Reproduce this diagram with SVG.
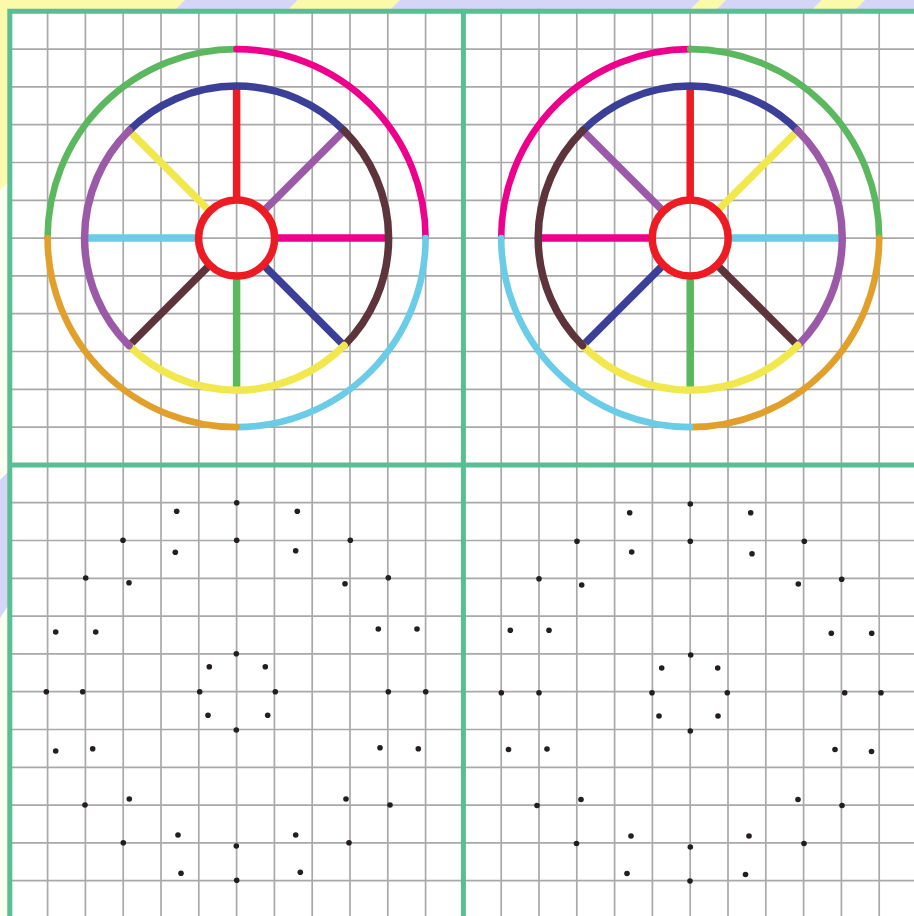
<svg xmlns="http://www.w3.org/2000/svg" width="914" height="916" viewBox="0 0 914 916">
<style>
.grid{fill:none;stroke:#a9a9a9;stroke-width:1.7}
.frame{fill:none;stroke:#58be93;stroke-width:5}
.ring{fill:none;stroke-width:6.6;stroke-linecap:round}
.mid{fill:none;stroke-width:7.5;stroke-linecap:round}
.spoke{fill:none;stroke-width:7.5;stroke-linecap:butt}
.hub{fill:none;stroke:#ed1c24;stroke-width:7.5}
.dot{fill:#231f20}
.g{stroke:#5cb85f}.m{stroke:#ec008c}.c{stroke:#6accE6}.o{stroke:#e1a02b}
.b{stroke:#3b3f98}.p{stroke:#9b5aa8}.y{stroke:#f1e84e}.br{stroke:#5d343c}.r{stroke:#ed1c24}
</style>
<defs>
<clipPath id="topStrip"><rect x="0" y="0" width="914" height="12"/></clipPath>
<clipPath id="leftStrip"><rect x="0" y="0" width="10" height="916"/></clipPath>
</defs>
<g id="backdrop">
<rect x="0" y="0" width="914" height="916" fill="#fdfdf2"/>
<g clip-path="url(#topStrip)">
<polygon points="0,0 185,0 170,15 0,15" fill="#fafaaa"/>
<polygon points="185,0 298,0 283,15 170,15" fill="#d5d5f8"/>
<polygon points="298,0 400,0 385,15 283,15" fill="#fafaaa"/>
<polygon points="400,0 700,0 685,15 385,15" fill="#d5d5f8"/>
<polygon points="700,0 726,0 711,15 685,15" fill="#fafaaa"/>
<polygon points="726,0 822,0 807,15 711,15" fill="#d5d5f8"/>
<polygon points="822,0 865,0 850,15 807,15" fill="#fafaaa"/>
<polygon points="865,0 914,0 914,15 850,15" fill="#d5d5f8"/>
</g>
<g clip-path="url(#leftStrip)">
<polygon points="0,0 12,0 12,178 0,190" fill="#fafaaa"/>
<polygon points="0,480 12,468 12,600 0,618" fill="#d5d5f8"/>
</g>
<rect x="9.8" y="11.3" width="905" height="905" fill="#ffffff"/>
</g>
<g id="grid">
<path class="grid" d="M47.6 11.3V916M85.4 11.3V916M123.2 11.3V916M161 11.3V916M198.8 11.3V916M236.6 11.3V916M274.4 11.3V916M312.2 11.3V916M350 11.3V916M387.8 11.3V916M425.6 11.3V916M463.4 11.3V916M501.2 11.3V916M539 11.3V916M576.8 11.3V916M614.6 11.3V916M652.4 11.3V916M690.2 11.3V916M728 11.3V916M765.8 11.3V916M803.6 11.3V916M841.4 11.3V916M879.2 11.3V916M9.8 49.1H914M9.8 86.9H914M9.8 124.7H914M9.8 162.5H914M9.8 200.3H914M9.8 238.1H914M9.8 275.9H914M9.8 313.7H914M9.8 351.5H914M9.8 389.3H914M9.8 427.1H914M9.8 464.9H914M9.8 502.7H914M9.8 540.5H914M9.8 578.3H914M9.8 616.1H914M9.8 653.9H914M9.8 691.7H914M9.8 729.5H914M9.8 767.3H914M9.8 805.1H914M9.8 842.9H914M9.8 880.7H914"/>
</g>
<g id="frame">
<path class="frame" d="M9.8 9V916M7.3 11.3H914M463.4 11.3V916M9.8 464.9H914"/>
</g>
<g id="wheel-left">
<path class="ring g" d="M47.6 238.1A189 189 0 0 1 236.6 49.1"/>
<path class="ring m" d="M236.6 49.1A189 189 0 0 1 425.6 238.1"/>
<path class="ring c" d="M425.6 238.1A189 189 0 0 1 236.6 427.1"/>
<path class="ring o" d="M236.6 427.1A189 189 0 0 1 47.6 238.1"/>
<path class="spoke r" d="M236.6 200.1V86.1"/>
<path class="spoke p" d="M263.5 211.2L344.1 130.6"/>
<path class="spoke m" d="M274.6 238.1H388.6"/>
<path class="spoke b" d="M263.5 265L344.1 345.6"/>
<path class="spoke g" d="M236.6 276.1V390.1"/>
<path class="spoke br" d="M209.7 265L129.1 345.6"/>
<path class="spoke c" d="M198.6 238.1H84.6"/>
<path class="spoke y" d="M209.7 211.2L129.1 130.6"/>
<path class="mid b" d="M129.1 130.6A152 152 0 0 1 344.1 130.6"/>
<path class="mid br" d="M344.1 130.6A152 152 0 0 1 344.1 345.6"/>
<path class="mid y" d="M344.1 345.6A152 152 0 0 1 129.1 345.6"/>
<path class="mid p" d="M129.1 345.6A152 152 0 0 1 129.1 130.6"/>
<circle class="hub" cx="236.6" cy="238.1" r="38"/>
</g>
<g id="wheel-right">
<path class="ring m" d="M501.2 238.1A189 189 0 0 1 690.2 49.1"/>
<path class="ring g" d="M690.2 49.1A189 189 0 0 1 879.2 238.1"/>
<path class="ring o" d="M879.2 238.1A189 189 0 0 1 690.2 427.1"/>
<path class="ring c" d="M690.2 427.1A189 189 0 0 1 501.2 238.1"/>
<path class="spoke r" d="M690.2 200.1V86.1"/>
<path class="spoke y" d="M717.1 211.2L797.7 130.6"/>
<path class="spoke c" d="M728.2 238.1H842.2"/>
<path class="spoke br" d="M717.1 265L797.7 345.6"/>
<path class="spoke g" d="M690.2 276.1V390.1"/>
<path class="spoke b" d="M663.3 265L582.7 345.6"/>
<path class="spoke m" d="M652.2 238.1H538.2"/>
<path class="spoke p" d="M663.3 211.2L582.7 130.6"/>
<path class="mid b" d="M582.7 130.6A152 152 0 0 1 797.7 130.6"/>
<path class="mid p" d="M797.7 130.6A152 152 0 0 1 797.7 345.6"/>
<path class="mid y" d="M797.7 345.6A152 152 0 0 1 582.7 345.6"/>
<path class="mid br" d="M582.7 345.6A152 152 0 0 1 582.7 130.6"/>
<circle class="hub" cx="690.2" cy="238.1" r="38"/>
</g>
<g id="dots-left">
<circle class="dot" cx="236.7" cy="502.7" r="2.8"/>
<circle class="dot" cx="176.7" cy="511.3" r="2.8"/>
<circle class="dot" cx="297.3" cy="511.3" r="2.8"/>
<circle class="dot" cx="123" cy="540.3" r="2.8"/>
<circle class="dot" cx="236.7" cy="540.3" r="2.8"/>
<circle class="dot" cx="350.3" cy="540.3" r="2.8"/>
<circle class="dot" cx="175.3" cy="552.3" r="2.8"/>
<circle class="dot" cx="295.7" cy="550.7" r="2.8"/>
<circle class="dot" cx="85.7" cy="578" r="2.8"/>
<circle class="dot" cx="129" cy="582.7" r="2.8"/>
<circle class="dot" cx="345" cy="583.7" r="2.8"/>
<circle class="dot" cx="388.3" cy="577.7" r="2.8"/>
<circle class="dot" cx="55.7" cy="632" r="2.8"/>
<circle class="dot" cx="95.7" cy="632" r="2.8"/>
<circle class="dot" cx="378.3" cy="629" r="2.8"/>
<circle class="dot" cx="417" cy="629" r="2.8"/>
<circle class="dot" cx="236.3" cy="653.7" r="2.8"/>
<circle class="dot" cx="209.3" cy="666.7" r="2.8"/>
<circle class="dot" cx="265.3" cy="666.7" r="2.8"/>
<circle class="dot" cx="46.3" cy="691.7" r="2.8"/>
<circle class="dot" cx="82.7" cy="691.7" r="2.8"/>
<circle class="dot" cx="199.7" cy="691.7" r="2.8"/>
<circle class="dot" cx="275.3" cy="691.7" r="2.8"/>
<circle class="dot" cx="388.3" cy="691.7" r="2.8"/>
<circle class="dot" cx="425.7" cy="691.7" r="2.8"/>
<circle class="dot" cx="208" cy="715.3" r="2.8"/>
<circle class="dot" cx="267.7" cy="715.3" r="2.8"/>
<circle class="dot" cx="236.3" cy="730" r="2.8"/>
<circle class="dot" cx="55.7" cy="751" r="2.8"/>
<circle class="dot" cx="92.7" cy="748.7" r="2.8"/>
<circle class="dot" cx="380" cy="747.7" r="2.8"/>
<circle class="dot" cx="418.3" cy="748.7" r="2.8"/>
<circle class="dot" cx="129.3" cy="799" r="2.8"/>
<circle class="dot" cx="85" cy="805" r="2.8"/>
<circle class="dot" cx="346" cy="799" r="2.8"/>
<circle class="dot" cx="390" cy="805" r="2.8"/>
<circle class="dot" cx="178" cy="835" r="2.8"/>
<circle class="dot" cx="123.3" cy="842.7" r="2.8"/>
<circle class="dot" cx="295.7" cy="835" r="2.8"/>
<circle class="dot" cx="349" cy="842.7" r="2.8"/>
<circle class="dot" cx="236.3" cy="846" r="2.8"/>
<circle class="dot" cx="181" cy="873.3" r="2.8"/>
<circle class="dot" cx="300.3" cy="872.3" r="2.8"/>
<circle class="dot" cx="236.7" cy="880.3" r="2.8"/>
</g>
<g id="dots-right">
<circle class="dot" cx="690.3" cy="504" r="2.8"/>
<circle class="dot" cx="629.7" cy="512.7" r="2.8"/>
<circle class="dot" cx="750.7" cy="512.7" r="2.8"/>
<circle class="dot" cx="577" cy="541.3" r="2.8"/>
<circle class="dot" cx="690.3" cy="541.3" r="2.8"/>
<circle class="dot" cx="804.3" cy="541.3" r="2.8"/>
<circle class="dot" cx="631.7" cy="552" r="2.8"/>
<circle class="dot" cx="752" cy="553.7" r="2.8"/>
<circle class="dot" cx="539" cy="578.7" r="2.8"/>
<circle class="dot" cx="581.7" cy="585" r="2.8"/>
<circle class="dot" cx="798.3" cy="584" r="2.8"/>
<circle class="dot" cx="841.7" cy="579.3" r="2.8"/>
<circle class="dot" cx="510.3" cy="630.3" r="2.8"/>
<circle class="dot" cx="549" cy="630.3" r="2.8"/>
<circle class="dot" cx="831.3" cy="633.3" r="2.8"/>
<circle class="dot" cx="871.7" cy="633.3" r="2.8"/>
<circle class="dot" cx="690.7" cy="655" r="2.8"/>
<circle class="dot" cx="661.7" cy="668" r="2.8"/>
<circle class="dot" cx="717.7" cy="668" r="2.8"/>
<circle class="dot" cx="501.3" cy="692.7" r="2.8"/>
<circle class="dot" cx="539" cy="692.7" r="2.8"/>
<circle class="dot" cx="652" cy="692.7" r="2.8"/>
<circle class="dot" cx="727.3" cy="692.7" r="2.8"/>
<circle class="dot" cx="844.7" cy="692.7" r="2.8"/>
<circle class="dot" cx="881" cy="692.7" r="2.8"/>
<circle class="dot" cx="659" cy="716" r="2.8"/>
<circle class="dot" cx="718" cy="716" r="2.8"/>
<circle class="dot" cx="690.3" cy="731" r="2.8"/>
<circle class="dot" cx="508.5" cy="749.5" r="2.8"/>
<circle class="dot" cx="547" cy="749" r="2.8"/>
<circle class="dot" cx="835" cy="749.5" r="2.8"/>
<circle class="dot" cx="871.5" cy="751.5" r="2.8"/>
<circle class="dot" cx="581" cy="799.5" r="2.8"/>
<circle class="dot" cx="537" cy="805.5" r="2.8"/>
<circle class="dot" cx="798" cy="799.5" r="2.8"/>
<circle class="dot" cx="842" cy="805.5" r="2.8"/>
<circle class="dot" cx="631" cy="836" r="2.8"/>
<circle class="dot" cx="576.5" cy="843.5" r="2.8"/>
<circle class="dot" cx="749" cy="836" r="2.8"/>
<circle class="dot" cx="804" cy="843.5" r="2.8"/>
<circle class="dot" cx="690.3" cy="847" r="2.8"/>
<circle class="dot" cx="627" cy="873.5" r="2.8"/>
<circle class="dot" cx="745.5" cy="874.5" r="2.8"/>
<circle class="dot" cx="690" cy="881" r="2.8"/>
</g>
</svg>
